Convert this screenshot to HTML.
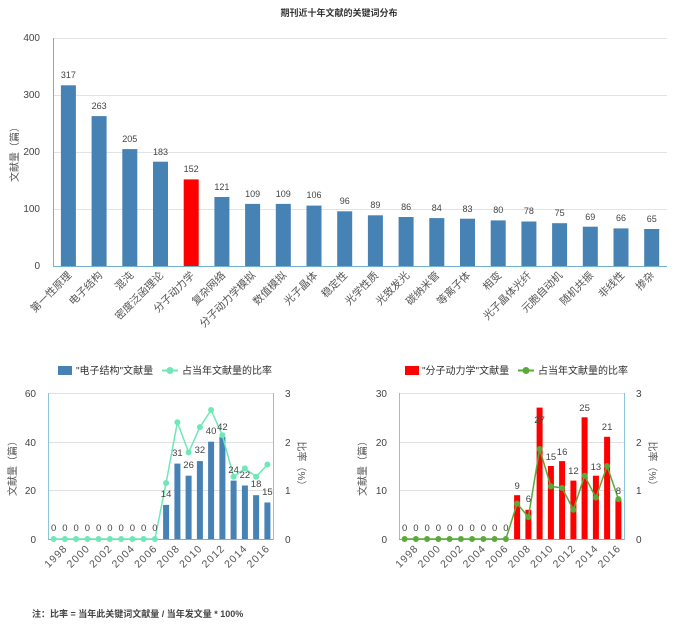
<!DOCTYPE html>
<html><head><meta charset="utf-8"><style>
body{margin:0;background:#fff;}
svg{display:block;font-family:"Liberation Sans","Noto Sans CJK SC",sans-serif;}
</style></head><body>
<svg width="678" height="624" viewBox="0 0 678 624" xmlns="http://www.w3.org/2000/svg">
<text x="339" y="16" font-size="9" font-weight="bold" text-anchor="middle" fill="#333">期刊近十年文献的关键词分布</text>
<!-- top chart -->
<g stroke="#e3e3e3" stroke-width="1">
<line x1="53" x2="667" y1="38.5" y2="38.5"/><line x1="53" x2="667" y1="95.5" y2="95.5"/><line x1="53" x2="667" y1="152.5" y2="152.5"/><line x1="53" x2="667" y1="209.5" y2="209.5"/>
</g>
<line x1="53.5" x2="53.5" y1="38" y2="267" stroke="#6fb3d0"/>
<line x1="53" x2="667" y1="266.5" y2="266.5" stroke="#6fb3d0"/>
<g font-size="10" fill="#444" text-anchor="end">
<text x="40" y="41">400</text><text x="40" y="98">300</text><text x="40" y="155">200</text><text x="40" y="212">100</text><text x="40" y="269">0</text>
</g>
<text transform="translate(18,152) rotate(-90)" font-size="10" fill="#555" text-anchor="middle">文献量（篇）</text>
<g fill="#4682b4">
<rect x="60.9" y="85.3" width="15" height="180.7"/><rect x="91.6" y="116.1" width="15" height="149.9"/><rect x="122.3" y="149.1" width="15" height="116.9"/><rect x="153" y="161.7" width="15" height="104.3"/>
<rect x="183.7" y="179.4" width="15" height="86.6" fill="#ff0000"/>
<rect x="214.4" y="197" width="15" height="69"/><rect x="245.1" y="203.9" width="15" height="62.1"/><rect x="275.8" y="203.9" width="15" height="62.1"/><rect x="306.5" y="205.6" width="15" height="60.4"/><rect x="337.2" y="211.3" width="15" height="54.7"/><rect x="367.9" y="215.3" width="15" height="50.7"/><rect x="398.6" y="217" width="15" height="49"/><rect x="429.3" y="218.1" width="15" height="47.9"/><rect x="460" y="218.7" width="15" height="47.3"/><rect x="490.7" y="220.4" width="15" height="45.6"/><rect x="521.4" y="221.5" width="15" height="44.5"/><rect x="552.1" y="223.2" width="15" height="42.8"/><rect x="582.8" y="226.7" width="15" height="39.3"/><rect x="613.5" y="228.4" width="15" height="37.6"/><rect x="644.2" y="229" width="15" height="37"/>
</g>
<g font-size="9" fill="#444" text-anchor="middle">
<text x="68.4" y="78">317</text><text x="99.1" y="109">263</text><text x="129.8" y="142">205</text><text x="160.5" y="155">183</text><text x="191.2" y="172">152</text><text x="221.9" y="190">121</text><text x="252.6" y="197">109</text><text x="283.3" y="197">109</text><text x="314" y="198">106</text><text x="344.7" y="204">96</text><text x="375.4" y="208">89</text><text x="406.1" y="210">86</text><text x="436.8" y="211">84</text><text x="467.5" y="212">83</text><text x="498.2" y="213">80</text><text x="528.9" y="214">78</text><text x="559.6" y="216">75</text><text x="590.3" y="220">69</text><text x="621" y="221">66</text><text x="651.7" y="222">65</text>
</g>
<g font-size="10.5" fill="#555" text-anchor="end">
<text transform="translate(72,276) rotate(-45)">第一性原理</text>
<text transform="translate(103,276) rotate(-45)">电子结构</text>
<text transform="translate(134,276) rotate(-45)">混沌</text>
<text transform="translate(164,276) rotate(-45)">密度泛函理论</text>
<text transform="translate(195,276) rotate(-45)">分子动力学</text>
<text transform="translate(226,276) rotate(-45)">复杂网络</text>
<text transform="translate(256,276) rotate(-45)">分子动力学模拟</text>
<text transform="translate(287,276) rotate(-45)">数值模拟</text>
<text transform="translate(318,276) rotate(-45)">光子晶体</text>
<text transform="translate(348,276) rotate(-45)">稳定性</text>
<text transform="translate(379,276) rotate(-45)">光学性质</text>
<text transform="translate(410,276) rotate(-45)">光致发光</text>
<text transform="translate(440,276) rotate(-45)">碳纳米管</text>
<text transform="translate(471,276) rotate(-45)">等离子体</text>
<text transform="translate(502,276) rotate(-45)">相变</text>
<text transform="translate(532,276) rotate(-45)">光子晶体光纤</text>
<text transform="translate(563,276) rotate(-45)">元胞自动机</text>
<text transform="translate(594,276) rotate(-45)">随机共振</text>
<text transform="translate(625,276) rotate(-45)">非线性</text>
<text transform="translate(655,276) rotate(-45)">掺杂</text>
</g>

<!-- bottom left -->
<rect x="58" y="366" width="14" height="9" fill="#4682b4"/>
<text x="76" y="374" font-size="10" fill="#333">"电子结构"文献量</text>
<line x1="162" x2="178" y1="370.5" y2="370.5" stroke="#6ee8b8" stroke-width="2"/><circle cx="170" cy="370.5" r="3.5" fill="#6ee8b8"/>
<text x="182" y="374" font-size="10" fill="#333">占当年文献量的比率</text>
<g stroke="#e0e0e0"><line x1="48" x2="273" y1="393.5" y2="393.5"/><line x1="48" x2="273" y1="442.5" y2="442.5"/><line x1="48" x2="273" y1="490.5" y2="490.5"/></g>
<line x1="48.5" x2="48.5" y1="393" y2="540" stroke="#8cc4dc"/><line x1="273.5" x2="273.5" y1="393" y2="540" stroke="#8cc4dc"/>
<line x1="48" x2="273" y1="539.5" y2="539.5" stroke="#6fb3d0"/>
<g font-size="10" fill="#444" text-anchor="end"><text x="36" y="397">60</text><text x="36" y="446">40</text><text x="36" y="494">20</text><text x="36" y="543">0</text></g>
<g font-size="10" fill="#444"><text x="285" y="397">3</text><text x="285" y="446">2</text><text x="285" y="494">1</text><text x="285" y="543">0</text></g>
<text transform="translate(16,466) rotate(-90)" font-size="10" fill="#555" text-anchor="middle">文献量（篇）</text>
<text transform="translate(298,466) rotate(90)" font-size="10" fill="#555" text-anchor="middle">比率（%）</text>
<g fill="#4682b4">
<rect x="163.1" y="504.9" width="6" height="34.1"/><rect x="174.4" y="463.6" width="6" height="75.4"/><rect x="185.6" y="475.7" width="6" height="63.3"/><rect x="196.9" y="461.1" width="6" height="77.9"/><rect x="208.1" y="441.7" width="6" height="97.3"/><rect x="219.4" y="436.8" width="6" height="102.2"/><rect x="230.6" y="480.6" width="6" height="58.4"/><rect x="241.9" y="485.5" width="6" height="53.5"/><rect x="253.1" y="495.2" width="6" height="43.8"/><rect x="264.4" y="502.5" width="6" height="36.5"/>
</g>
<polyline fill="none" stroke="#6ee8b8" stroke-width="1.5" points="53.6,539 64.9,539 76.1,539 87.4,539 98.6,539 109.9,539 121.1,539 132.4,539 143.6,539 154.9,539 166.1,483 177.4,422.2 188.6,452.4 199.9,427.1 211.1,410 222.4,435.3 233.6,476.7 244.9,468.4 256.1,476.7 267.4,464.5"/>
<g fill="#6ee8b8">
<circle cx="53.6" cy="539" r="3"/><circle cx="64.9" cy="539" r="3"/><circle cx="76.1" cy="539" r="3"/><circle cx="87.4" cy="539" r="3"/><circle cx="98.6" cy="539" r="3"/><circle cx="109.9" cy="539" r="3"/><circle cx="121.1" cy="539" r="3"/><circle cx="132.4" cy="539" r="3"/><circle cx="143.6" cy="539" r="3"/><circle cx="154.9" cy="539" r="3"/>
<circle cx="166.1" cy="483" r="3"/><circle cx="177.4" cy="422.2" r="3"/><circle cx="188.6" cy="452.4" r="3"/><circle cx="199.9" cy="427.1" r="3"/><circle cx="211.1" cy="410" r="3"/><circle cx="222.4" cy="435.3" r="3"/><circle cx="233.6" cy="476.7" r="3"/><circle cx="244.9" cy="468.4" r="3"/><circle cx="256.1" cy="476.7" r="3"/><circle cx="267.4" cy="464.5" r="3"/>
</g>
<g font-size="9.5" fill="#444" text-anchor="middle">
<text x="53.6" y="531">0</text><text x="64.9" y="531">0</text><text x="76.1" y="531">0</text><text x="87.4" y="531">0</text><text x="98.6" y="531">0</text><text x="109.9" y="531">0</text><text x="121.1" y="531">0</text><text x="132.4" y="531">0</text><text x="143.6" y="531">0</text><text x="154.9" y="531">0</text>
<text x="166.1" y="497">14</text><text x="177.4" y="456">31</text><text x="188.6" y="468">26</text><text x="199.9" y="453">32</text><text x="211.1" y="434">40</text><text x="222.4" y="430">42</text><text x="233.6" y="473">24</text><text x="244.9" y="478">22</text><text x="256.1" y="487">18</text><text x="267.4" y="495">15</text>
</g>
<g font-size="10.5" fill="#555" text-anchor="end" letter-spacing="1">
<text transform="translate(68,549) rotate(-45)">1998</text><text transform="translate(90.4,549) rotate(-45)">2000</text><text transform="translate(112.9,549) rotate(-45)">2002</text><text transform="translate(135.4,549) rotate(-45)">2004</text><text transform="translate(157.9,549) rotate(-45)">2006</text><text transform="translate(180.4,549) rotate(-45)">2008</text><text transform="translate(202.9,549) rotate(-45)">2010</text><text transform="translate(225.4,549) rotate(-45)">2012</text><text transform="translate(247.9,549) rotate(-45)">2014</text><text transform="translate(270.4,549) rotate(-45)">2016</text>
</g>

<!-- bottom right -->
<rect x="405" y="366" width="14" height="9" fill="#ff0000"/>
<text x="422" y="374" font-size="10" fill="#333">"分子动力学"文献量</text>
<line x1="518" x2="534" y1="370.5" y2="370.5" stroke="#5aaa3a" stroke-width="2"/><circle cx="526" cy="370.5" r="3.5" fill="#5aaa3a"/>
<text x="538" y="374" font-size="10" fill="#333">占当年文献量的比率</text>
<g stroke="#e0e0e0"><line x1="399" x2="624" y1="393.5" y2="393.5"/><line x1="399" x2="624" y1="442.5" y2="442.5"/><line x1="399" x2="624" y1="490.5" y2="490.5"/></g>
<line x1="399.5" x2="399.5" y1="393" y2="540" stroke="#8cc4dc"/><line x1="624.5" x2="624.5" y1="393" y2="540" stroke="#8cc4dc"/>
<line x1="399" x2="624" y1="539.5" y2="539.5" stroke="#6fb3d0"/>
<g font-size="10" fill="#444" text-anchor="end"><text x="387" y="397">30</text><text x="387" y="446">20</text><text x="387" y="494">10</text><text x="387" y="543">0</text></g>
<g font-size="10" fill="#444"><text x="636" y="397">3</text><text x="636" y="446">2</text><text x="636" y="494">1</text><text x="636" y="543">0</text></g>
<text transform="translate(366,466) rotate(-90)" font-size="10" fill="#555" text-anchor="middle">文献量（篇）</text>
<text transform="translate(649,466) rotate(90)" font-size="10" fill="#555" text-anchor="middle">比率（%）</text>
<g fill="#ff0000">
<rect x="514.1" y="495.2" width="6" height="43.8"/><rect x="525.4" y="509.8" width="6" height="29.2"/><rect x="536.6" y="407.6" width="6" height="131.4"/><rect x="547.9" y="466" width="6" height="73"/><rect x="559.1" y="461.1" width="6" height="77.9"/><rect x="570.4" y="480.6" width="6" height="58.4"/><rect x="581.6" y="417.3" width="6" height="121.7"/><rect x="592.9" y="475.7" width="6" height="63.3"/><rect x="604.1" y="436.8" width="6" height="102.2"/><rect x="615.4" y="500.1" width="6" height="38.9"/>
</g>
<polyline fill="none" stroke="#5aaa3a" stroke-width="1.5" points="404.6,539 415.9,539 427.1,539 438.4,539 449.6,539 460.9,539 472.1,539 483.4,539 494.6,539 505.9,539 517.1,503.5 528.4,517.1 539.6,449 550.9,486.4 562.1,487.9 573.4,509.8 584.6,475.7 595.9,497.6 607.1,466 618.4,499.1"/>
<g fill="#5aaa3a">
<circle cx="404.6" cy="539" r="3"/><circle cx="415.9" cy="539" r="3"/><circle cx="427.1" cy="539" r="3"/><circle cx="438.4" cy="539" r="3"/><circle cx="449.6" cy="539" r="3"/><circle cx="460.9" cy="539" r="3"/><circle cx="472.1" cy="539" r="3"/><circle cx="483.4" cy="539" r="3"/><circle cx="494.6" cy="539" r="3"/><circle cx="505.9" cy="539" r="3"/>
<circle cx="517.1" cy="503.5" r="3"/><circle cx="528.4" cy="517.1" r="3"/><circle cx="539.6" cy="449" r="3"/><circle cx="550.9" cy="486.4" r="3"/><circle cx="562.1" cy="487.9" r="3"/><circle cx="573.4" cy="509.8" r="3"/><circle cx="584.6" cy="475.7" r="3"/><circle cx="595.9" cy="497.6" r="3"/><circle cx="607.1" cy="466" r="3"/><circle cx="618.4" cy="499.1" r="3"/>
</g>
<g font-size="9.5" fill="#444" text-anchor="middle">
<text x="404.6" y="531">0</text><text x="415.9" y="531">0</text><text x="427.1" y="531">0</text><text x="438.4" y="531">0</text><text x="449.6" y="531">0</text><text x="460.9" y="531">0</text><text x="472.1" y="531">0</text><text x="483.4" y="531">0</text><text x="494.6" y="531">0</text><text x="505.9" y="531">0</text>
<text x="517.1" y="489">9</text><text x="528.4" y="502">6</text><text x="539.6" y="423">27</text><text x="550.9" y="460">15</text><text x="562.1" y="455">16</text><text x="573.4" y="474">12</text><text x="584.6" y="411">25</text><text x="595.9" y="470">13</text><text x="607.1" y="430">21</text><text x="618.4" y="494">8</text>
</g>
<g font-size="10.5" fill="#555" text-anchor="end" letter-spacing="1">
<text transform="translate(419,549) rotate(-45)">1998</text><text transform="translate(441.4,549) rotate(-45)">2000</text><text transform="translate(463.9,549) rotate(-45)">2002</text><text transform="translate(486.4,549) rotate(-45)">2004</text><text transform="translate(508.9,549) rotate(-45)">2006</text><text transform="translate(531.4,549) rotate(-45)">2008</text><text transform="translate(553.9,549) rotate(-45)">2010</text><text transform="translate(576.4,549) rotate(-45)">2012</text><text transform="translate(598.9,549) rotate(-45)">2014</text><text transform="translate(621.4,549) rotate(-45)">2016</text>
</g>

<text x="32" y="617" font-size="9" font-weight="bold" fill="#444">注：比率 = 当年此关键词文献量 / 当年发文量 * 100%</text>
</svg>
</body></html>
